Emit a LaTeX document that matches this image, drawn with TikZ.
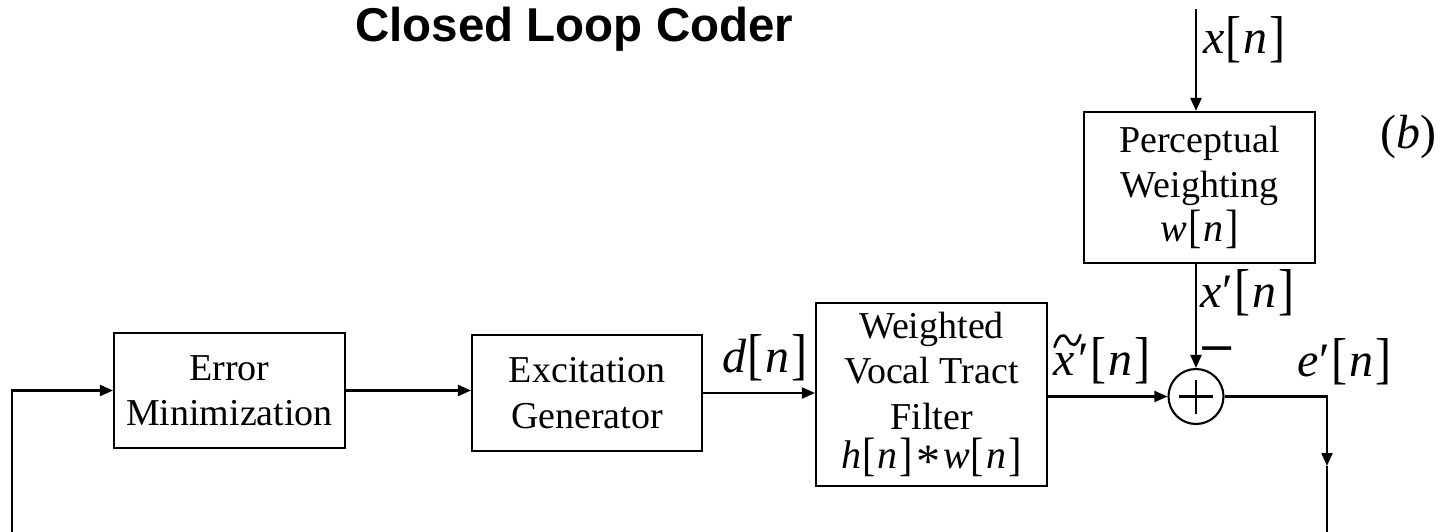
\documentclass[tikz,border=0pt]{standalone}
\usepackage{fontspec}
\usepackage{graphicx}
\setmainfont{Liberation Serif}
\newfontfamily\titlefont{Liberation Sans}
\usetikzlibrary{arrows.meta}

% signal notation: italic symbols, tall upright brackets
\newcommand{\mv}[1]{\textit{#1}}
\newcommand{\tallbr}[1]{\raisebox{-0.04em}{\scalebox{1}[1.17]{#1}}}
\newcommand{\idx}{\kern1pt\tallbr{[}\kern2pt\textit{n}\kern2pt\tallbr{]}}
\newcommand{\prm}{\kern1pt\symbol{"2032}}
% wide tilde over an italic x
\newcommand{\wtilde}{\tikz[x=1pt,y=1pt,baseline=0pt]
  \draw[line width=2.6pt, line cap=round]
    (0,28) .. controls (4,40) and (9,43) .. (13,36)
           .. controls (17,28) and (22,27) .. (26,40);}
\newcommand{\tildex}{\makebox[0pt][l]{\wtilde}\textit{x}}
\newcommand{\conv}{\kern3pt\raisebox{-0.22em}{\scalebox{1.2}{*}}\kern3pt}
\newcommand{\negsign}{\scalebox{1.3}[1.5]{\symbol{"2212}}}

\tikzset{
  wire/.style={line width=2.1pt},
  arrow/.style={wire, -{Triangle[length=13pt,width=11pt]}},
  block/.style={draw, line width=2.1pt, inner sep=0pt, align=center,
    font=\fontsize{38}{45.5}\selectfont},
  sig/.style={anchor=base west, inner sep=0pt, font=\fontsize{48}{50}\selectfont},
  summer/.style={draw, circle, line width=2.1pt, minimum size=55pt, inner sep=0pt}
}

\begin{document}
\begin{tikzpicture}[x=1pt,y=-1pt]
  \path[use as bounding box, fill=white] (0,0) rectangle (1448,532);

  % title
  \node[anchor=base west, inner sep=0pt,
        font=\titlefont\bfseries\fontsize{47.5}{50}\selectfont]
        (title) at (355,42) {Closed Loop Coder};

  % blocks
  \node[block, minimum width=231pt, minimum height=115pt] (em) at (229.5,390.5)
        {Error\\Minimization};
  \node[block, minimum width=230pt, minimum height=116pt] (exc) at (587,393)
        {Excitation\\Generator};
  \node[block, minimum width=231pt, minimum height=183pt] (vtf) at (931.5,394.5)
        {Weighted\\Vocal Tract\\Filter\\[-6pt]
         {\fontsize{40}{45}\selectfont\mv{h}\idx\conv\mv{w}\idx}};
  \node[block, minimum width=231pt, minimum height=151pt] (pw) at (1199.5,187.5)
        {Perceptual\\Weighting\\[-2pt]
         {\fontsize{40}{45}\selectfont\mv{w}\idx}};
  \node[summer] (sum) at (1196,396.5) {};
  \draw[line width=2.8pt] ([xshift=-17pt]sum.center) -- ([xshift=17pt]sum.center);
  \draw[line width=2.8pt] ([yshift=-17pt]sum.center) -- ([yshift=17pt]sum.center);

  % loose ends of the input and the feedback loop
  \coordinate (xin) at (1196,9);
  \coordinate (fbL) at (12,532);
  \coordinate (fbR) at (1327,532);
  \coordinate (midR) at (1327,466);

  % connectors
  \draw[arrow] (xin) -- (xin |- pw.north);
  \draw[arrow] (pw.south -| sum) -- (sum.north);
  \draw[arrow] (vtf.east |- sum) -- (sum.west);
  \draw[arrow] (exc.east) -- (exc.east -| vtf.west);
  \draw[arrow] (em.east) -- (em.east -| exc.west);
  \draw[arrow] (sum.east) -| (midR);
  \draw[wire] (midR) -- (fbR);
  \draw[arrow] (fbL) |- (em.west);

  % signal labels
  \node[sig] (lx)  at (1203,54)  {\mv{x}\idx};
  \node[sig] (lb)  at (1380,149) {(\mv{b})};
  \node[sig] (lxp) at (1200,307) {\mv{x}\prm\idx};
  \node[sig, anchor=base] (lminus) at (1217,372) {\negsign};
  \node[sig] (lep) at (1297,376) {\mv{e}\prm\idx};
  \node[sig] (ld)  at (722,372)  {\mv{d}\idx};
  \node[sig] (lxt) at (1053,375) {\tildex\kern3pt\prm\idx};
\end{tikzpicture}
\end{document}
